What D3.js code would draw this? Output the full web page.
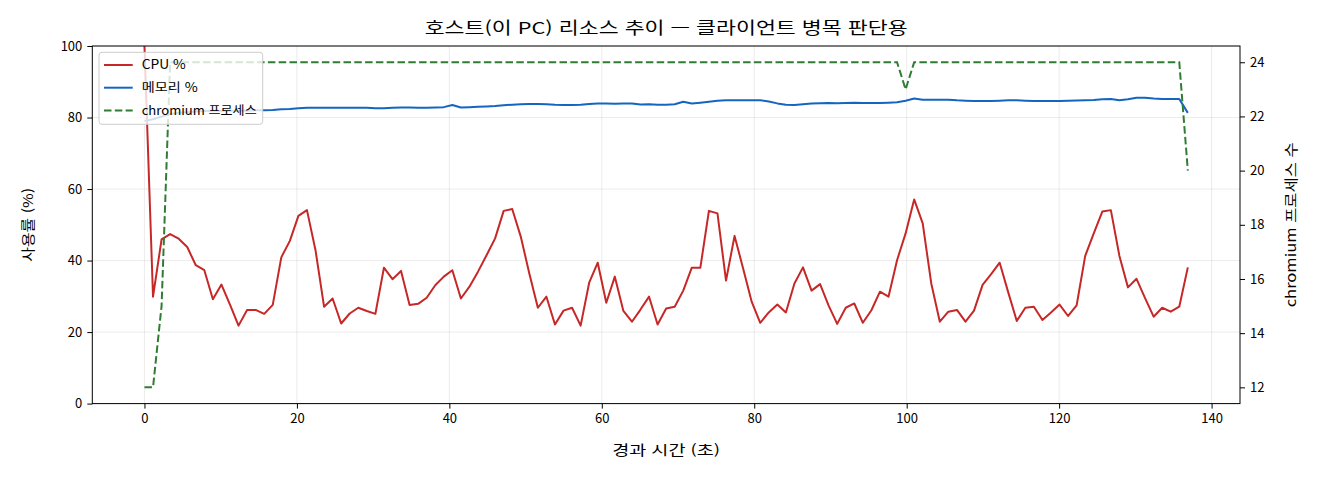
<!DOCTYPE html>
<html lang="ko">
<head>
<meta charset="UTF-8">
<title>호스트 리소스 추이</title>
<script src="https://d3js.org/d3.v7.min.js"></script>
<style>
  html, body { margin: 0; padding: 0; background: #fff; }
  svg { display: block; }
  text { font-family: "Noto Sans CJK KR", "Noto Sans", sans-serif; fill: #000; }
  .grid line { stroke: #b0b0b0; stroke-opacity: 0.3; stroke-width: 0.8; }
  .axis path, .axis line { stroke: #000; stroke-width: 1; }
  .axis text { font-size: 13px; }
</style>
</head>
<body>
<svg id="chart" width="1320" height="480"></svg>
<script>
// sampling interval of the collector (seconds)
const SAMPLE_SEC = 1.122;

const cpuPct = [100, 29.9, 45.9, 47.4, 46.1, 43.8, 38.7, 37.3, 29.2, 33.3,
  27.7, 21.8, 26.2, 26.2, 25.1, 27.6, 40.9, 45.5, 52.5, 54.1,
  42.9, 27.1, 29.4, 22.4, 25.2, 26.8, 25.9, 25.1, 38.0, 34.8,
  37.1, 27.6, 27.9, 29.6, 33.1, 35.5, 37.3, 29.4, 32.7, 36.9,
  41.5, 46.2, 53.9, 54.4, 46.7, 36.4, 26.8, 29.9, 22.1, 26.0,
  26.8, 21.8, 33.8, 39.4, 28.2, 35.5, 25.9, 22.9, 26.3, 29.9,
  22.1, 26.6, 27.1, 31.6, 38.0, 38.0, 53.9, 53.2, 34.4, 46.9,
  37.8, 28.5, 22.6, 25.5, 27.7, 25.5, 33.6, 38.1, 31.6, 33.4,
  27.4, 22.3, 26.8, 28.0, 22.6, 26.1, 31.3, 29.9, 40.1, 47.6,
  57.1, 50.4, 33.6, 22.9, 25.7, 26.2, 22.9, 26.0, 33.2, 36.2,
  39.4, 31.1, 23.1, 26.8, 27.1, 23.4, 25.5, 27.7, 24.5, 27.5,
  41.3, 47.6, 53.7, 54.1, 41.3, 32.5, 34.9, 29.5, 24.3, 26.8,
  25.7, 27.1, 38.1];

const memPct = [79.0, 79.5, 80.3, 81.0, 81.3, 81.5, 81.7, 81.8, 81.9, 81.9,
  81.9, 81.9, 81.9, 82.0, 82.0, 82.1, 82.3, 82.4, 82.6, 82.7,
  82.7, 82.7, 82.7, 82.7, 82.7, 82.7, 82.7, 82.6, 82.6, 82.7,
  82.8, 82.8, 82.7, 82.7, 82.8, 82.9, 83.5, 82.8, 82.9, 83.0,
  83.1, 83.2, 83.4, 83.6, 83.7, 83.75, 83.8, 83.7, 83.55, 83.5,
  83.5, 83.55, 83.8, 83.9, 83.9, 83.85, 83.95, 83.9, 83.65, 83.7,
  83.6, 83.6, 83.7, 84.4, 83.95, 84.15, 84.4, 84.7, 84.8, 84.8,
  84.8, 84.8, 84.8, 84.5, 83.95, 83.6, 83.5, 83.7, 83.9, 84.0,
  84.05, 84.0, 84.05, 84.1, 84.05, 84.05, 84.05, 84.15, 84.3, 84.7,
  85.3, 85.0, 85.0, 85.0, 85.0, 84.8, 84.7, 84.6, 84.6, 84.6,
  84.7, 84.8, 84.8, 84.7, 84.6, 84.6, 84.6, 84.65, 84.7, 84.75,
  84.8, 84.9, 85.1, 85.2, 84.8, 85.1, 85.55, 85.5, 85.3, 85.2,
  85.2, 85.2, 81.3];

const chromiumProcs = [12, 12, 15, 24, 24, 24, 24, 24, 24, 24,
  24, 24, 24, 24, 24, 24, 24, 24, 24, 24,
  24, 24, 24, 24, 24, 24, 24, 24, 24, 24,
  24, 24, 24, 24, 24, 24, 24, 24, 24, 24,
  24, 24, 24, 24, 24, 24, 24, 24, 24, 24,
  24, 24, 24, 24, 24, 24, 24, 24, 24, 24,
  24, 24, 24, 24, 24, 24, 24, 24, 24, 24,
  24, 24, 24, 24, 24, 24, 24, 24, 24, 24,
  24, 24, 24, 24, 24, 24, 24, 24, 24, 23,
  24, 24, 24, 24, 24, 24, 24, 24, 24, 24,
  24, 24, 24, 24, 24, 24, 24, 24, 24, 24,
  24, 24, 24, 24, 24, 24, 24, 24, 24, 24,
  24, 24, 20];

const xTicks = [0, 20, 40, 60, 80, 100, 120, 140];
const yTicks = [0, 20, 40, 60, 80, 100];
const y2Ticks = [12, 14, 16, 18, 20, 22, 24];

const titleText = "호스트(이 PC) 리소스 추이 — 클라이언트 병목 판단용";
const xLabel = "경과 시간 (초)";
const yLabel = "사용률 (%)";
const y2Label = "chromium 프로세스 수";
const seriesNames = ["CPU %", "메모리 %", "chromium 프로세스"];
const colors = { cpu: "#c62828", mem: "#1565c0", proc: "#2e7d32" };

const box = { left: 92.3, top: 46, right: 1240, bottom: 403.6 };
const width = box.right - box.left;
const height = box.bottom - box.top;

const rows = cpuPct.map((c, i) => ({
  t: i * SAMPLE_SEC, cpu: c, mem: memPct[i], proc: chromiumProcs[i]
}));

// matplotlib style 5% padding
function padded(ext) {
  const p = (ext[1] - ext[0]) * 0.05;
  return [ext[0] - p, ext[1] + p];
}

const x = d3.scaleLinear().domain(padded(d3.extent(rows, d => d.t))).range([0, width]);
const y = d3.scaleLinear().domain([0, 100]).range([height, 0]);
const y2 = d3.scaleLinear().domain(padded(d3.extent(rows, d => d.proc))).range([height, 0]);

const svg = d3.select("#chart");
const g = svg.append("g").attr("transform", `translate(${box.left},${box.top})`);

g.append("defs").append("clipPath").attr("id", "plotclip")
  .append("rect").attr("width", width).attr("height", height);

// grid
g.append("g").attr("class", "grid")
  .selectAll("line").data(xTicks).enter().append("line")
  .attr("x1", d => x(d)).attr("x2", d => x(d)).attr("y1", 0).attr("y2", height);
g.append("g").attr("class", "grid")
  .selectAll("line").data(yTicks).enter().append("line")
  .attr("x1", 0).attr("x2", width).attr("y1", d => y(d)).attr("y2", d => y(d));

const plot = g.append("g").attr("clip-path", "url(#plotclip)");

const cpuLine = d3.line().x(d => x(d.t)).y(d => y(d.cpu));
const memLine = d3.line().x(d => x(d.t)).y(d => y(d.mem));
const procLine = d3.line().x(d => x(d.t)).y(d => y2(d.proc));

plot.append("path").datum(rows)
  .attr("d", cpuLine).attr("fill", "none")
  .attr("stroke", colors.cpu).attr("stroke-width", 2).attr("stroke-linejoin", "round");
plot.append("path").datum(rows)
  .attr("d", memLine).attr("fill", "none")
  .attr("stroke", colors.mem).attr("stroke-width", 2).attr("stroke-linejoin", "round");

// legend sits between ax1 lines and the twin-axis line
const legend = g.append("g").attr("transform", "translate(6.7,6.3)");
legend.append("rect")
  .attr("width", 163.7).attr("height", 72).attr("rx", 3)
  .attr("fill", "#fff").attr("fill-opacity", 0.8)
  .attr("stroke", "#cccccc").attr("stroke-width", 1);
const legendItems = [
  { name: seriesNames[0], color: colors.cpu, dash: null, w: 44 },
  { name: seriesNames[1], color: colors.mem, dash: null, w: 56 },
  { name: seriesNames[2], color: colors.proc, dash: "7.5,3.3", w: 115 }
];
legendItems.forEach((it, i) => {
  const cy = 12.7 + i * 22.7;
  legend.append("line")
    .attr("x1", 5).attr("x2", 33.7).attr("y1", cy).attr("y2", cy)
    .attr("stroke", it.color).attr("stroke-width", 2)
    .attr("stroke-dasharray", it.dash);
  legend.append("text")
    .attr("x", 42.7).attr("y", cy).attr("dy", "0.36em")
    .attr("textLength", it.w).attr("lengthAdjust", "spacingAndGlyphs")
    .style("font-size", "12.5px").text(it.name);
});

plot.append("path").datum(rows)
  .attr("d", procLine).attr("fill", "none")
  .attr("stroke", colors.proc).attr("stroke-width", 2)
  .attr("stroke-dasharray", "7.5,3.3");

// axes
g.append("g").attr("class", "axis")
  .attr("transform", `translate(0,${height})`)
  .call(d3.axisBottom(x).tickValues(xTicks).tickSize(5).tickPadding(5))
  .call(a => a.select(".domain").remove());
g.append("g").attr("class", "axis")
  .call(d3.axisLeft(y).tickValues(yTicks).tickSize(5).tickPadding(5))
  .call(a => a.select(".domain").remove());
g.append("g").attr("class", "axis")
  .attr("transform", `translate(${width},0)`)
  .call(d3.axisRight(y2).tickValues(y2Ticks).tickSize(5).tickPadding(5))
  .call(a => a.select(".domain").remove());

g.append("rect").attr("width", width).attr("height", height)
  .attr("fill", "none").attr("stroke", "#000").attr("stroke-width", 1);

// labels
svg.append("text")
  .attr("x", box.left + width / 2).attr("y", 34)
  .attr("text-anchor", "middle").style("font-size", "16.5px")
  .attr("textLength", 483).attr("lengthAdjust", "spacingAndGlyphs")
  .text(titleText);
svg.append("text")
  .attr("x", box.left + width / 2).attr("y", 455)
  .attr("text-anchor", "middle").style("font-size", "13.5px")
  .attr("textLength", 108).attr("lengthAdjust", "spacingAndGlyphs")
  .text(xLabel);
svg.append("text")
  .attr("transform", `translate(33,${box.top + height / 2}) rotate(-90)`)
  .attr("text-anchor", "middle").style("font-size", "13.5px")
  .attr("textLength", 74).attr("lengthAdjust", "spacingAndGlyphs")
  .text(yLabel);
svg.append("text")
  .attr("transform", `translate(1296,${box.top + height / 2}) rotate(-90)`)
  .attr("text-anchor", "middle").style("font-size", "13.5px")
  .attr("textLength", 165).attr("lengthAdjust", "spacingAndGlyphs")
  .text(y2Label);
</script>
</body>
</html>
